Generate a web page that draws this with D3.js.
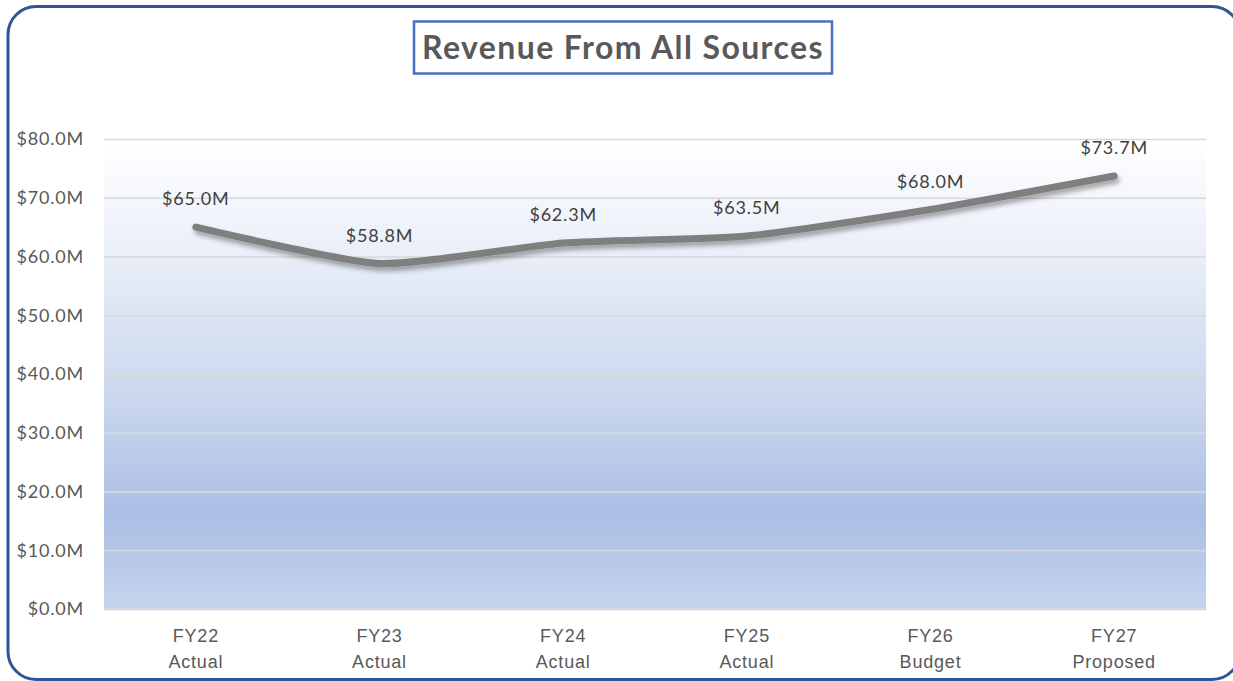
<!DOCTYPE html>
<html>
<head>
<meta charset="utf-8">
<script src="https://cdn.jsdelivr.net/npm/d3@7"></script>
<style>
  html, body { margin: 0; padding: 0; background: #ffffff; overflow: hidden; }
  svg { display: block; font-family: Lato, "Open Sans", sans-serif; }
  .lbl { font-size: 18px; letter-spacing: 0.8px; }
</style>
</head>
<body>
<div id="chart"></div>
<script>
const categories = ["FY22", "FY23", "FY24", "FY25", "FY26", "FY27"];
const subLabels = ["Actual", "Actual", "Actual", "Actual", "Budget", "Proposed"];
const revenue = [65.0, 58.8, 62.3, 63.5, 68.0, 73.7];
const yTicks = [0, 10, 20, 30, 40, 50, 60, 70, 80];

const width = 1233, height = 681;
const margin = {top: 139, right: 27, bottom: 72, left: 104};
const innerW = width - margin.left - margin.right,
      innerH = height - margin.top - margin.bottom;

const svg = d3.select("#chart").append("svg")
  .attr("width", width)
  .attr("height", height);

const defs = svg.append("defs");

const grad = defs.append("linearGradient")
  .attr("id", "plotGrad")
  .attr("x1", 0).attr("y1", 0).attr("x2", 0).attr("y2", 1);
[[0, "#ffffff"], [0.25, "#e9eef8"], [0.55, "#cad7ee"], [0.8, "#abbee4"], [1, "#c6d4ee"]]
  .forEach(s => grad.append("stop").attr("offset", s[0]).attr("stop-color", s[1]));

const shadow = defs.append("filter")
  .attr("id", "lineShadow")
  .attr("x", "-10%").attr("y", "-50%").attr("width", "120%").attr("height", "200%");
shadow.append("feDropShadow")
  .attr("dx", 2).attr("dy", 4)
  .attr("stdDeviation", 2.5)
  .attr("flood-color", "#000")
  .attr("flood-opacity", 0.35);

// outer frame (right side runs off the picture)
svg.append("rect")
  .attr("x", 8).attr("y", 6.5)
  .attr("width", 1232).attr("height", 673)
  .attr("rx", 28).attr("ry", 28)
  .attr("fill", "none")
  .attr("stroke", "#2f5597")
  .attr("stroke-width", 3);

const g = svg.append("g")
  .attr("transform", "translate(" + margin.left + "," + margin.top + ")");

let x = d3.scaleBand().domain(categories).range([0, innerW]);
let y = d3.scaleLinear().domain([0, 80]).range([innerH, 0]);

g.append("rect")
  .attr("width", innerW)
  .attr("height", innerH)
  .attr("fill", "url(#plotGrad)");

// gridlines
g.append("g")
  .call(d3.axisLeft(y).tickValues(yTicks).tickSize(-innerW).tickFormat(""))
  .call(a => a.select(".domain").remove())
  .call(a => a.selectAll("line").attr("stroke", "#d9d9d9").attr("stroke-width", 1.5));

// y labels
g.append("g")
  .call(d3.axisLeft(y).tickValues(yTicks).tickSize(0).tickPadding(20)
    .tickFormat(d => "$" + d.toFixed(1) + "M"))
  .call(a => a.select(".domain").remove())
  .call(a => a.selectAll("text")
    .attr("class", "lbl")
    .attr("fill", "#595959")
    .style("font-family", "Lato, sans-serif"));

// x labels
const xAxis = g.append("g")
  .attr("transform", "translate(0," + innerH + ")")
  .call(d3.axisBottom(x).tickSize(0).tickFormat(""))
  .call(a => a.select(".domain").attr("stroke", "#d9d9d9").attr("stroke-width", 1.5));

xAxis.selectAll(".tick").each(function(d, i) {
  const t = d3.select(this).append("text")
    .attr("class", "lbl")
    .attr("fill", "#595959")
    .attr("text-anchor", "middle");
  t.append("tspan").attr("x", 0).attr("y", 33).text(d);
  t.append("tspan").attr("x", 0).attr("y", 59).text(subLabels[i]);
});

let line = d3.line()
  .x((d, i) => x(categories[i]) + x.bandwidth() / 2)
  .y(d => y(d))
  .curve(d3.curveCardinal.tension(0.4));

g.append("path")
  .datum(revenue)
  .attr("d", line)
  .attr("fill", "none")
  .attr("stroke", "#7f7f7f")
  .attr("stroke-width", 7)
  .attr("stroke-linecap", "round")
  .attr("stroke-linejoin", "round")
  .attr("filter", "url(#lineShadow)");

// data labels
g.selectAll(".dlabel")
  .data(revenue)
  .enter().append("text")
  .attr("class", "dlabel lbl")
  .attr("x", (d, i) => x(categories[i]) + x.bandwidth() / 2)
  .attr("y", d => y(d) - 22)
  .attr("text-anchor", "middle")
  .attr("fill", "#404040")
  .text(d => "$" + d.toFixed(1) + "M");

// title
const titleBox = svg.append("g");
titleBox.append("rect")
  .attr("x", 414).attr("y", 21.5)
  .attr("width", 418).attr("height", 52)
  .attr("fill", "#ffffff")
  .attr("stroke", "#4472c4")
  .attr("stroke-width", 2.5);
titleBox.append("text")
  .attr("x", 623).attr("y", 59)
  .attr("text-anchor", "middle")
  .attr("fill", "#595959")
  .style("font-size", "32px")
  .style("letter-spacing", "1.4px")
  .style("font-weight", "bold")
  .text("Revenue From All Sources");
</script>
</body>
</html>
